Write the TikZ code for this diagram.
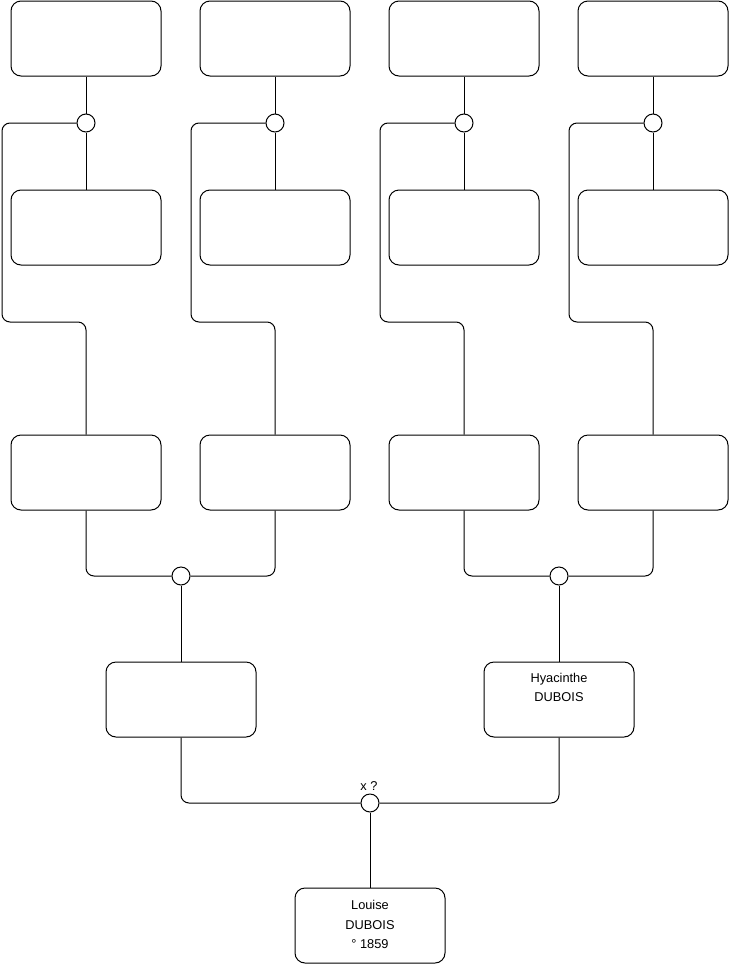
\documentclass[tikz,border=0pt]{standalone}
\usepackage{fontspec}
\setmainfont{Liberation Sans}
\begin{document}
\begin{tikzpicture}[x=1pt,y=-1pt,
  person/.style={draw, rounded corners=10pt, minimum width=150pt, minimum height=75pt, inner sep=0pt, line width=1pt},
  union/.style={draw, circle, minimum size=18pt, inner sep=0pt, fill=white, line width=1pt},
  link/.style={draw, rounded corners=8pt, line width=1pt},
  persontext/.style={anchor=north, align=center, inner sep=0pt, font={\fontsize{12.8}{19.5}\selectfont}}]
\useasboundingbox (0,0) rectangle (740,975);
% row 1
\node[person] (a1) at (86,38.5) {};
\node[person] (a2) at (275,38.5) {};
\node[person] (a3) at (464,38.5) {};
\node[person] (a4) at (653,38.5) {};
% row 2
\node[person] (b1) at (86,227.5) {};
\node[person] (b2) at (275,227.5) {};
\node[person] (b3) at (464,227.5) {};
\node[person] (b4) at (653,227.5) {};
% row 3
\node[person] (c1) at (86,472.5) {};
\node[person] (c2) at (275,472.5) {};
\node[person] (c3) at (464,472.5) {};
\node[person] (c4) at (653,472.5) {};
% row 4
\node[person] (d1) at (181,699.5) {};
\node[person] (d2) at (559,699.5) {};
\node[persontext] (d2t) at ([yshift=-11.5pt]d2.north) {Hyacinthe\\DUBOIS};
% row 5
\node[person] (e) at (370,925.5) {};
\node[persontext] (et) at ([yshift=-13pt]e.north) {Louise\\DUBOIS\\° 1859};
% unions
\node[union] (u1) at (86,123) {};
\node[union] (u2) at (275,123) {};
\node[union] (u3) at (464,123) {};
\node[union] (u4) at (653,123) {};
\node[union] (v1) at (181,576) {};
\node[union] (v2) at (559,576) {};
\node[union] (w) at (370,803) {};
\node[font={\fontsize{12.8}{14}\selectfont}, inner sep=0pt] (wl) at (369,786) {x ?};
% top links
\foreach \i/\cx in {1/86,2/275,3/464,4/653}{
  \draw[link] (a\i.south) -- (u\i.north);
  \draw[link] (u\i.south) -- (b\i.north);
  \draw[link] (u\i.west) -- (\cx-84,123) -- (\cx-84,322) -- (\cx,322) -- (c\i.north);
}
% row 3 to unions
\draw[link] (c1.south) |- (v1.west);
\draw[link] (c2.south) |- (v1.east);
\draw[link] (c3.south) |- (v2.west);
\draw[link] (c4.south) |- (v2.east);
\draw[link] (v1.south) -- (d1.north);
\draw[link] (v2.south) -- (d2.north);
% row 4 to bottom
\draw[link] (d1.south) |- (w.west);
\draw[link] (d2.south) |- (w.east);
\draw[link] (w.south) -- (e.north);
\end{tikzpicture}
\end{document}
